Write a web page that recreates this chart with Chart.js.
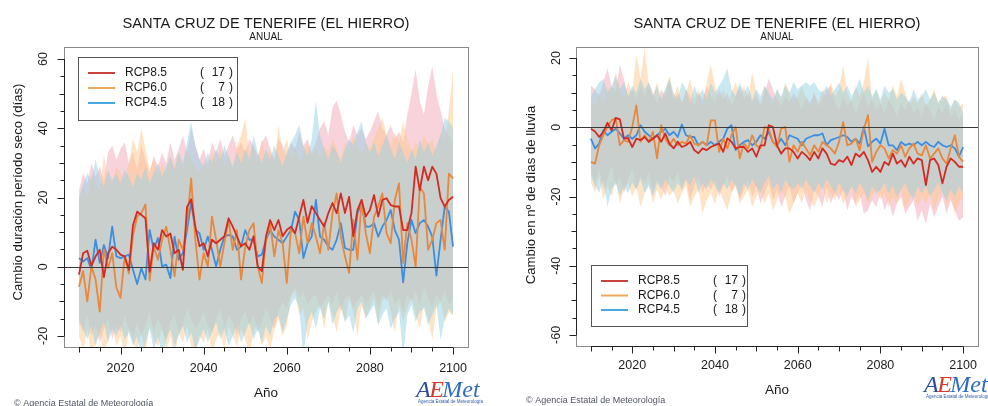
<!DOCTYPE html>
<html>
<head>
<meta charset="utf-8">
<script src="https://cdn.jsdelivr.net/npm/chart.js@4.4.1/dist/chart.umd.min.js"></script>
<style>
  body { margin: 0; background: #fff; width: 988px; height: 406px; overflow: hidden; position: relative; }
  canvas { position: absolute; top: 0; }
  #seco { left: 0; }
  #lluvia { left: 494px; }
</style>
</head>
<body>
<canvas id="seco" width="494" height="406"></canvas>
<canvas id="lluvia" width="494" height="406"></canvas>
<script>
// years 2010..2100, one value per year
const years = Array.from({length: 91}, (_, i) => 2010 + i);
const scenarios = ['RCP8.5', 'RCP6.0', 'RCP4.5'];
const modelCounts = [17, 7, 18];

const xTicks = [2010, 2015, 2020, 2025, 2030, 2035, 2040, 2045, 2050, 2055, 2060, 2065, 2070, 2075, 2080, 2085, 2090, 2095, 2100];
const xTickLabels = [2020, 2040, 2060, 2080, 2100];
const secoYTicks = [-20, -15, -10, -5, 0, 5, 10, 15, 20, 25, 30, 35, 40, 45, 50, 55, 60];
const secoYTickLabels = [-20, 0, 20, 40, 60];
const lluviaYTicks = [-60, -55, -50, -45, -40, -35, -30, -25, -20, -15, -10, -5, 0, 5, 10, 15, 20];
const lluviaYTickLabels = [-60, -40, -20, 0, 20];

// --- cambio duración periodo seco (días) ---
const secoRcp85 = [
  -2.3, 3.9, 4.6, 0.3, 3.0, 4.9, -3.0, 3.9, 5.8, 4.9,
  3.5, 3.0, -0.9, 12.0, 15.9, 15.0, 14.0, -1.5, 6.8, 4.9,
  10.6, 8.7, 9.6, 3.9, 4.9, -0.9, 17.3, 19.5, 11.6, 5.9,
  6.8, 3.0, 7.8, 6.8, 7.8, 8.8, 14.0, 11.6, 8.8, 5.9,
  6.8, 4.9, 8.8, 0.1, -1.3, 8.8, 13.5, 10.6, 13.5, 8.8,
  10.6, 11.6, 9.7, 14.5, 19.3, 12.7, 17.5, 15.5, 13.5, 11.6,
  15.5, 18.4, 15.5, 21.2, 15.5, 20.2, 8.8, 16.4, 19.3, 14.5,
  16.4, 20.7, 14.5, 19.3, 19.8, 17.8, 17.4, 17.4, 10.6, 10.6,
  15.5, 28.9, 22.1, 28.9, 25.0, 28.9, 26.9, 19.8, 17.4, 19.3,
  20.2
];
const secoRcp60 = [
  -5.8, -1.3, -10.0, 0.1, -3.7, -13.0, 4.9, -0.4, 3.9, -6.0,
  -9.0, 3.0, -2.0, 9.0, 14.5, 15.5, 18.0, -4.0, 5.8, 2.0,
  7.8, 11.6, 4.9, -2.8, 7.8, 4.9, 12.6, 25.5, 7.8, -3.7,
  3.9, 0.1, 14.5, 7.8, 0.1, 6.8, 13.5, 4.9, 10.6, -3.7,
  5.8, 10.6, 12.6, 0.1, -4.7, 7.8, 12.6, 3.0, 10.6, 6.8,
  -4.7, 10.6, 9.7, 3.9, 14.5, 6.8, 12.6, 8.7, 3.9, 12.6,
  4.9, 15.4, 21.2, 8.7, 3.0, -1.8, 13.5, 2.0, 19.3, 9.7,
  3.9, 14.5, 17.4, 21.2, 9.7, 6.8, 19.3, 24.1, 1.1, 12.6,
  7.8, 0.1, 23.1, 21.2, 4.9, 7.8, 12.6, 13.5, 4.9, 26.9,
  25.5
];
const secoRcp45 = [
  2.5, 1.5, 2.5, -0.9, 7.8, 1.1, 6.3, 2.5, 11.6, 3.0,
  2.5, 3.0, 3.5, -0.9, -5.0, -0.4, -3.7, 10.6, 4.9, 8.3,
  0.1, 0.6, -3.3, 8.7, 2.0, 4.0, 10.6, 18.5, 10.6, 9.7,
  4.9, 8.7, 4.9, 0.1, 4.9, 8.7, 9.2, 8.7, 4.9, 5.8,
  10.6, 7.8, 7.8, 3.0, 3.5, 7.8, 10.6, 8.7, 7.8, 6.8,
  8.7, 10.6, 15.9, 13.5, 2.5, 6.8, 8.7, 19.3, 8.7, 7.8,
  5.8, 4.9, 7.8, 12.6, 5.4, 4.9, 4.9, 15.4, 18.3, 11.6,
  11.6, 12.6, 8.7, 11.6, 13.5, 16.4, 10.6, 7.8, -4.5, 6.8,
  13.5, 9.7, 12.6, 13.5, 11.6, 8.7, -2.6, 7.8, 17.4, 15.9,
  5.8
];
const secoMax85 = [
  22, 27, 24, 30, 26, 29, 25, 33, 35, 31,
  34, 36, 30, 33, 28, 35, 31, 27, 32, 29,
  33, 30, 36, 31, 34, 38, 33, 40, 35, 31,
  34, 30, 36, 33, 37, 32, 35, 38, 34, 36,
  33, 37, 35, 32, 36, 38, 34, 31, 37, 35,
  32, 36, 34, 39, 35, 37, 33, 36, 40, 42,
  38, 46, 48, 44, 39, 36, 41, 38, 40, 37,
  39, 42, 45, 40, 38, 41, 37, 39, 36, 44,
  50, 57, 48, 44, 52, 58, 50, 45, 40, 38,
  36
];
const secoMin85 = [
  -16, -19, -14, -20, -17, -22, -18, -15, -21, -17,
  -19, -14, -18, -21, -16, -20, -17, -13, -19, -15,
  -18, -21, -16, -14, -19, -17, -12, -15, -18, -16,
  -13, -17, -19, -15, -12, -18, -14, -16, -20, -15,
  -13, -17, -14, -19, -16, -12, -15, -18, -13, -10,
  -12, -8, -6, -9, -7, -11, -9, -8, -12, -10,
  -8, -11, -7, -13, -9, -8, -12, -10, -8, -11,
  -9, -7, -12, -8, -10, -7, -11, -9, -13, -8,
  -10, -7, -11, -6, -9, -12, -8, -10, -7, -11,
  -9
];
const secoMax60 = [
  18, 23, 20, 27, 24, 22, 32, 26, 24, 29,
  27, 25, 30, 37, 33, 40, 34, 28, 31, 26,
  30, 27, 32, 29, 33, 28, 34, 31, 29, 27,
  31, 28, 33, 30, 34, 29, 32, 28, 35, 38,
  43, 32, 35, 30, 37, 31, 34, 29, 41, 33,
  37, 31, 35, 30, 33, 36, 32, 34, 31, 35,
  33, 37, 34, 31, 36, 33, 38, 35, 32, 36,
  34, 37, 40, 43, 38, 35, 39, 36, 42, 37,
  33, 36, 34, 38, 35, 37, 33, 39, 36, 45,
  57
];
const secoMin60 = [
  -20, -24, -18, -26, -22, -19, -25, -21, -17, -23,
  -20, -26, -18, -22, -24, -19, -25, -17, -21, -23,
  -18, -24, -20, -26, -19, -22, -17, -23, -25, -20,
  -22, -18, -25, -21, -19, -24, -17, -20, -23, -18,
  -21, -25, -19, -16, -23, -20, -24, -18, -15, -20,
  -17, -9, -7, -14, -12, -21, -16, -13, -11, -18,
  -10, -14, -19, -12, -16, -9, -13, -20, -11, -15,
  -12, -9, -17, -10, -8, -13, -19, -11, -16, -12,
  -9, -14, -18, -11, -15, -21, -12, -10, -16, -13,
  -14
];
const secoMax45 = [
  20, 24, 27, 25, 31, 26, 23, 28, 25, 27,
  24, 28, 26, 23, 27, 25, 29, 24, 27, 30,
  26, 29, 32, 28, 33, 30, 36, 42, 35, 31,
  29, 33, 30, 34, 31, 35, 32, 29, 33, 30,
  34, 31, 38, 33, 30, 34, 31, 35, 32, 29,
  33, 36, 38, 41, 35, 32, 37, 48, 38, 34,
  31, 35, 33, 30, 34, 37, 35, 39, 42, 36,
  33, 36, 32, 35, 38, 34, 31, 36, 33, 30,
  34, 31, 37, 33, 36, 32, 35, 38, 43, 42,
  40
];
const secoMin45 = [
  -15, -18, -21, -17, -23, -19, -16, -22, -18, -20,
  -17, -21, -19, -23, -20, -26, -22, -18, -24, -20,
  -26, -21, -18, -23, -20, -17, -22, -19, -24, -21,
  -18, -22, -19, -16, -21, -18, -23, -20, -17, -22,
  -19, -16, -21, -18, -22, -17, -20, -15, -14, -19,
  -15, -11, -9, -12, -26, -16, -13, -18, -12, -15,
  -10, -17, -13, -11, -16, -14, -19, -12, -10, -15,
  -13, -11, -17, -14, -12, -18, -15, -13, -26, -14,
  -11, -16, -13, -12, -17, -14, -11, -21, -15, -12,
  -14
];

// --- cambio en nº de días de lluvia ---
const lluviaRcp85 = [
  -0.4, -1.2, -2.8, -1.3, 1.3, -0.9, 2.7, 2.3, -3.3, -3.1,
  -5.7, -3.3, -3.7, -2.8, -4.2, -3.3, -2.3, -4.2, -1.8, -4.7,
  -6.1, -4.2, -5.7, -5.2, -4.2, -6.6, -7.5, -6.1, -6.6, -5.7,
  -5.2, -4.7, -7.1, -3.2, -4.2, -6.1, -5.7, -5.7, -7.1, -6.1,
  -8.5, -5.2, -5.2, 0.6, 0.1, -5.2, -7.6, -6.1, -6.1, -7.1,
  -9.0, -7.1, -8.1, -9.5, -7.1, -9.0, -6.1, -7.6, -10.5, -10.9,
  -9.5, -10.0, -8.5, -10.9, -7.6, -8.5, -7.1, -9.5, -12.9, -11.4,
  -12.9, -10.0, -10.9, -7.6, -10.5, -9.5, -11.4, -8.5, -10.5, -9.0,
  -9.5, -16.7, -9.5, -9.0, -10.9, -16.2, -11.4, -9.0, -10.0, -11.4,
  -11.4
];
const lluviaRcp60 = [
  -10.0, -10.5, -5.2, -2.3, 0.1, 2.0, 2.7, -5.2, -3.7, -4.2,
  0.1, 6.3, -4.2, -2.3, -4.2, -1.3, -9.0, 0.6, -3.3, -5.2,
  -3.3, -5.2, -4.2, -4.7, -2.3, -4.7, -5.2, -4.2, -5.2, 2.0,
  2.0, -7.1, -3.3, -6.1, -2.3, 0.1, -9.0, -4.7, -6.1, -2.3,
  -5.2, -6.1, 0.1, -0.4, -4.2, -5.7, -0.4, 0.1, -10.0, -5.2,
  -7.1, -4.2, -6.1, -8.1, -5.2, -7.1, -4.2, -5.2, -6.1, -7.6,
  -4.2, 1.5, -5.2, -4.7, -3.3, -6.6, -0.4, 3.5, -10.0, -7.1,
  -5.2, -6.1, -9.0, -6.6, -7.6, -5.2, -8.5, -6.1, -4.7, -7.6,
  -8.1, -5.2, -9.0, -7.6, -6.1, -9.0, -10.5, -6.1, -2.3, -8.5,
  -10.0
];
const lluviaRcp45 = [
  -3.3, -6.1, -4.7, -0.9, -2.3, -1.3, -0.4, -1.8, -3.3, -2.3,
  -3.3, -2.3, 0.6, -1.3, -2.3, -3.3, -2.3, -1.3, -0.4, -2.3,
  -1.3, -2.8, 0.8, -2.3, -2.8, -2.8, -5.2, -4.2, -5.2, -4.2,
  -5.2, -4.2, -3.3, -0.4, 0.6, -6.6, -5.2, -4.2, -3.7, -5.2,
  -4.2, -2.3, -3.3, -1.3, -4.2, -5.2, -3.3, -5.2, -2.3, -2.8,
  -3.3, -5.2, -3.3, -2.8, -2.3, -2.3, -1.8, -5.2, -3.7, -3.3,
  -2.8, -2.3, -2.8, -4.2, -3.3, -4.7, 0.1, -5.5, -4.2, -3.3,
  -4.7, -0.4, -5.2, -5.2, -6.6, -4.2, -5.2, -4.7, -5.2, -4.2,
  -5.2, -4.2, -5.2, -5.7, -4.2, -5.2, -5.7, -5.2, -6.1, -8.5,
  -5.7
];
const lluviaMax85 = [
  12, 11, 9, 13, 17, 12, 10, 18, 14, 9,
  11, 8, 12, 9, 13, 10, 7, 11, 9, 13,
  8, 10, 7, 11, 9, 6, 10, 8, 12, 9,
  7, 11, 8, 10, 6, 9, 12, 8, 10, 7,
  9, 6, 10, 14, 11, 8, 6, 9, 7, 10,
  8, 5, 9, 7, 10, 6, 8, 11, 12, 7,
  5, 9, 6, 8, 4, 7, 10, 6, 8, 5,
  7, 4, 8, 6, 3, 7, 5, 8, 4, 6,
  3, 7, 5, 2, 6, 4, 7, 3, 5, 2,
  4
];
const lluviaMin85 = [
  -13, -16, -12, -18, -15, -11, -17, -14, -19, -15,
  -12, -18, -14, -16, -13, -19, -15, -17, -20, -14,
  -16, -13, -18, -15, -21, -17, -14, -19, -16, -18,
  -15, -20, -17, -14, -19, -16, -21, -18, -15, -20,
  -17, -22, -19, -16, -21, -18, -23, -20, -17, -22,
  -19, -16, -21, -24, -18, -20, -23, -17, -22, -19,
  -21, -18, -24, -20, -22, -19, -25, -24, -21, -23,
  -19, -24, -21, -26, -22, -20, -25, -23, -21, -27,
  -24, -28, -22, -26, -23, -20, -25, -21, -24, -27,
  -26
];
const lluviaMax60 = [
  8, 6, 10, 7, 12, 9, 16, 11, 8, 13,
  10, 21, 14, 23, 12, 9, 13, 8, 11, 15,
  9, 12, 7, 10, 14, 8, 11, 6, 13, 18,
  12, 8, 11, 7, 10, 13, 9, 12, 8, 16,
  10, 7, 12, 9, 6, 11, 8, 13, 10, 7,
  9, 12, 8, 6, 10, 7, 11, 8, 13, 9,
  11, 18, 10, 7, 12, 9, 13, 20, 8, 11,
  7, 10, 8, 12, 9, 14, 10, 6, 9, 7,
  10, 6, 8, 11, 7, 9, 9, 5, 8, 6,
  7
];
const lluviaMin60 = [
  -16, -19, -14, -21, -17, -20, -15, -22, -18, -16,
  -20, -17, -23, -19, -16, -22, -18, -21, -17, -20,
  -18, -22, -19, -17, -23, -20, -18, -25, -21, -19,
  -22, -18, -21, -24, -19, -17, -22, -20, -18, -23,
  -20, -18, -22, -19, -24, -21, -18, -20, -25, -22,
  -19, -22, -18, -21, -23, -20, -17, -22, -19, -21,
  -18, -22, -20, -17, -23, -21, -19, -22, -20, -18,
  -21, -19, -23, -20, -22, -18, -24, -21, -19, -23,
  -20, -22, -19, -24, -21, -18, -23, -20, -25, -22,
  -20
];
const lluviaMax45 = [
  9, 11, 13, 14, 10, 12, 15, 11, 13, 9,
  12, 10, 14, 11, 13, 9, 12, 8, 11, 14,
  10, 8, 13, 11, 7, 12, 9, 11, 8, 13,
  10, 12, 14, 17, 11, 9, 13, 10, 12, 8,
  11, 9, 12, 10, 8, 11, 9, 12, 10, 13,
  11, 12, 13, 12, 13, 11, 10, 12, 9, 11,
  13, 10, 12, 9, 11, 14, 10, 12, 9, 11,
  8, 12, 10, 11, 8, 10, 9, 7, 11, 8,
  9, 11, 8, 10, 7, 9, 8, 6, 8, 7,
  4
];
const lluviaMin45 = [
  -14, -17, -19, -15, -23, -18, -16, -20, -17, -19,
  -16, -18, -15, -19, -17, -20, -16, -18, -15, -17,
  -19, -16, -18, -15, -17, -14, -19, -16, -18, -15,
  -17, -19, -16, -18, -15, -17, -20, -16, -18, -15,
  -17, -19, -16, -14, -18, -16, -19, -15, -17, -18,
  -16, -18, -15, -17, -19, -16, -18, -15, -17, -19,
  -16, -18, -20, -17, -19, -16, -18, -21, -17, -19,
  -18, -16, -19, -17, -20, -18, -16, -19, -21, -17,
  -19, -17, -20, -18, -16, -19, -21, -18, -20, -17,
  -19
];

const lineColors = ['#d42a21', '#ea873a', '#3a8fe2'];
const legendColors = ['#c9423c', '#eda75e', '#4aa6e0'];
const bandColors = ['rgba(244,168,184,0.5)', 'rgba(253,199,140,0.5)', 'rgba(150,210,230,0.5)'];

const chartTitle = 'SANTA CRUZ DE TENERIFE (EL HIERRO)';
const chartSubtitle = 'ANUAL';
const xTitle = 'Año';
const credit = '© Agencia Estatal de Meteorología';
const FONT = '"Liberation Sans", Arial, sans-serif';

function makeDecor(p) {
  return {
    id: 'decor',
    afterDatasetsDraw(chart) {
      const {ctx, chartArea: a, scales: {y}} = chart;
      const y0 = Math.round(y.getPixelForValue(0)) + 0.5;
      ctx.save();
      ctx.strokeStyle = '#3a3a3a';
      ctx.lineWidth = 1;
      ctx.beginPath(); ctx.moveTo(a.left, y0); ctx.lineTo(a.right, y0); ctx.stroke();
      ctx.restore();
    },
    afterDraw(chart) {
      const {ctx, chartArea: a, scales: {x, y}} = chart;
      const cx = (a.left + a.right) / 2;
      ctx.save();
      // plot box
      ctx.strokeStyle = '#8a8a8a';
      ctx.lineWidth = 1;
      ctx.strokeRect(Math.round(a.left) + 0.5, Math.round(a.top) + 0.5, Math.round(a.right - a.left), Math.round(a.bottom - a.top));
      // axes with ticks
      ctx.strokeStyle = '#222';
      const xb = Math.round(a.bottom) + 0.5, yl = Math.round(a.left) + 0.5;
      ctx.beginPath();
      ctx.moveTo(x.getPixelForValue(xTicks[0]), xb);
      ctx.lineTo(x.getPixelForValue(xTicks[xTicks.length - 1]), xb);
      xTicks.forEach(v => {
        const px = Math.round(x.getPixelForValue(v)) + 0.5;
        const len = xTickLabels.includes(v) ? 7 : (v % 10 === 0 ? 5 : 4);
        ctx.moveTo(px, xb); ctx.lineTo(px, xb + len);
      });
      ctx.moveTo(yl, y.getPixelForValue(p.yTicks[0]));
      ctx.lineTo(yl, y.getPixelForValue(p.yTicks[p.yTicks.length - 1]));
      p.yTicks.forEach(v => {
        const py = Math.round(y.getPixelForValue(v)) + 0.5;
        const len = p.yTickLabels.includes(v) ? 7 : (v % 10 === 0 ? 5 : 4);
        ctx.moveTo(yl, py); ctx.lineTo(yl - len, py);
      });
      ctx.stroke();

      ctx.fillStyle = '#1a1a1a';
      ctx.font = '12.5px ' + FONT;
      ctx.textAlign = 'center';
      ctx.textBaseline = 'alphabetic';
      xTickLabels.forEach(v => ctx.fillText(String(v), x.getPixelForValue(v), p.xLabelBase));
      p.yTickLabels.forEach(v => {
        ctx.save();
        ctx.translate(p.yLabelBase, y.getPixelForValue(v));
        ctx.rotate(-Math.PI / 2);
        ctx.fillText(String(v), 0, 0);
        ctx.restore();
      });

      // titles
      ctx.font = '14.7px ' + FONT;
      ctx.fillText(chartTitle, cx, 28);
      ctx.font = '10px ' + FONT;
      ctx.fillText(chartSubtitle, cx, 40);
      ctx.font = '13.5px ' + FONT;
      ctx.fillText(xTitle, cx, p.xTitleBase);
      ctx.save();
      ctx.translate(p.yTitleX, p.yTitleY);
      ctx.rotate(-Math.PI / 2);
      ctx.textBaseline = 'middle';
      ctx.font = '13.2px ' + FONT;
      ctx.fillText(p.yTitle, 0, 0);
      ctx.restore();

      // legend
      const L = p.legend;
      ctx.fillStyle = '#fff';
      ctx.fillRect(L.x, L.y, L.w, L.h);
      ctx.strokeStyle = '#555';
      ctx.strokeRect(L.x + 0.5, L.y + 0.5, L.w, L.h);
      ctx.font = '12px ' + FONT;
      ctx.textBaseline = 'middle';
      scenarios.forEach((name, k) => {
        const ry = L.y + L.row0 + k * L.step;
        ctx.strokeStyle = legendColors[k];
        ctx.lineWidth = 2;
        ctx.beginPath(); ctx.moveTo(L.x + 10, ry); ctx.lineTo(L.x + 37, ry); ctx.stroke();
        ctx.fillStyle = '#1a1a1a';
        ctx.textAlign = 'left';
        ctx.fillText(name, L.x + 47, ry);
        ctx.fillText('(', L.x + 122, ry);
        ctx.fillText(')', L.x + 151, ry);
        ctx.textAlign = 'right';
        ctx.fillText(String(modelCounts[k]), L.x + 147, ry);
      });

      // credit line
      ctx.textAlign = 'left';
      ctx.textBaseline = 'alphabetic';
      ctx.fillStyle = '#505560';
      ctx.font = '9px ' + FONT;
      ctx.fillText(credit, p.creditX, p.creditBase);

      // AEMet logo text
      let lx = p.logoX;
      ctx.font = 'italic 24px "Liberation Serif", serif';
      [['A', '#2a4c9e'], ['E', '#d8392b'], ['Met', '#2f6cc0']].forEach(([t, c]) => {
        ctx.fillStyle = c;
        ctx.fillText(t, lx, p.logoBase);
        lx += ctx.measureText(t).width - 1.5;
      });
      ctx.fillStyle = '#2f5ea8';
      ctx.font = '4.5px ' + FONT;
      ctx.fillText('Agencia Estatal de Meteorología', p.logoX + 2, p.logoBase + 6);
      ctx.restore();
    }
  };
}

function makePanel(canvasId, p) {
  const pts = arr => years.map((yr, i) => ({x: yr, y: arr[i]}));
  const datasets = [];
  p.lines.forEach((arr, k) => datasets.push({
    label: scenarios[k], data: pts(arr), borderColor: lineColors[k], borderWidth: 1.8,
    borderJoinStyle: 'round', pointRadius: 0, tension: 0, fill: false, order: k
  }));
  p.bands.forEach(([hi, lo], k) => {
    datasets.push({data: pts(hi), borderWidth: 0, pointRadius: 0, backgroundColor: bandColors[k], fill: '+1', order: 5 - k, clip: 0});
    datasets.push({data: pts(lo), borderWidth: 0, pointRadius: 0, fill: false, order: 5 - k, clip: 0});
  });
  return new Chart(document.getElementById(canvasId), {
    type: 'line',
    data: {datasets},
    options: {
      responsive: false,
      animation: false,
      devicePixelRatio: 1,
      layout: {padding: {left: 0, top: 47, right: p.padRight, bottom: 0}},
      plugins: {legend: {display: false}, tooltip: {enabled: false}},
      scales: {
        x: {type: 'linear', min: 2006.4, max: 2103.6,
            ticks: {display: false}, grid: {display: false}, border: {display: false},
            afterFit: s => { s.height = p.xAxisHeight; }},
        y: {type: 'linear', min: p.yMin, max: p.yMax,
            ticks: {display: false}, grid: {display: false}, border: {display: false},
            afterFit: s => { s.width = p.yAxisWidth; }}
      }
    },
    plugins: [makeDecor(p)]
  });
}

makePanel('seco', {
  lines: [secoRcp85, secoRcp60, secoRcp45],
  bands: [[secoMax85, secoMin85], [secoMax60, secoMin60], [secoMax45, secoMin45]],
  yMin: -23.2, yMax: 63.5, yTicks: secoYTicks, yTickLabels: secoYTickLabels,
  yTitle: 'Cambio duración período seco (días)',
  yAxisWidth: 64, padRight: 26, xAxisHeight: 59,
  xLabelBase: 371.5, yLabelBase: 47, xTitleBase: 397, yTitleX: 18, yTitleY: 192,
  legend: {x: 78, y: 57, w: 159, h: 63, row0: 16, step: 15},
  creditX: 14, creditBase: 406, logoX: 416, logoBase: 397
});

makePanel('lluvia', {
  lines: [lluviaRcp85, lluviaRcp60, lluviaRcp45],
  bands: [[lluviaMax85, lluviaMin85], [lluviaMax60, lluviaMin60], [lluviaMax45, lluviaMin45]],
  yMin: -63.2, yMax: 23.2, yTicks: lluviaYTicks, yTickLabels: lluviaYTickLabels,
  yTitle: 'Cambio en nº de días de lluvia',
  yAxisWidth: 82, padRight: 10, xAxisHeight: 60,
  xLabelBase: 368.5, yLabelBase: 66, xTitleBase: 394, yTitleX: 37, yTitleY: 195,
  legend: {x: 97, y: 265, w: 156, h: 61, row0: 16, step: 14.5},
  creditX: 32, creditBase: 403, logoX: 430, logoBase: 392
});
</script>
</body>
</html>
